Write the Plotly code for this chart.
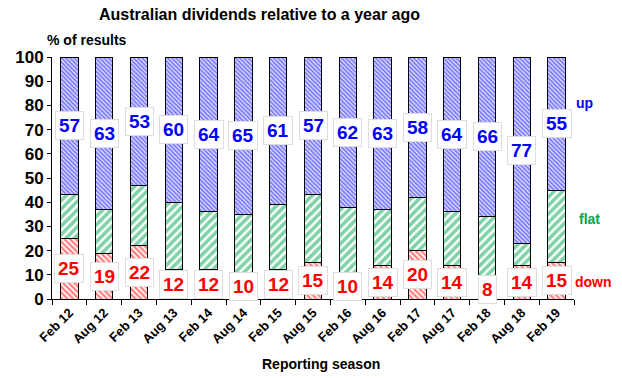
import plotly.graph_objects as go

seasons = ["Feb 12", "Aug 12", "Feb 13", "Aug 13", "Feb 14", "Aug 14", "Feb 15", "Aug 15",
           "Feb 16", "Aug 16", "Feb 17", "Aug 17", "Feb 18", "Aug 18", "Feb 19"]
down = [25, 19, 22, 12, 12, 10, 12, 15, 10, 14, 20, 14, 8, 14, 15]
up = [57, 63, 53, 60, 64, 65, 61, 57, 62, 63, 58, 64, 66, 77, 55]
flat = [100 - u - d for u, d in zip(up, down)]

FONT = "Arial, Liberation Sans, sans-serif"
BLUE = "#0000FF"
RED = "#FF0000"
GREEN = "#00A650"

fig = go.Figure()
fig.add_bar(x=seasons, y=down, name="down",
            marker=dict(color="white", line=dict(color="black", width=1),
                        pattern=dict(shape="\\", fgcolor=RED, bgcolor="white", size=4, solidity=0.55)))
fig.add_bar(x=seasons, y=flat, name="flat",
            marker=dict(color="white", line=dict(color="black", width=1),
                        pattern=dict(shape="/", fgcolor=GREEN, bgcolor="white", size=6, solidity=0.6)))
fig.add_bar(x=seasons, y=up, name="up",
            marker=dict(color="white", line=dict(color="black", width=1),
                        pattern=dict(shape="\\", fgcolor=BLUE, bgcolor="white", size=3, solidity=0.7)))

annotations = []
for i, s in enumerate(seasons):
    annotations.append(dict(x=s, y=down[i] / 2, text=str(down[i]), showarrow=False,
                            font=dict(family=FONT, size=19, color=RED, weight="bold"),
                            bgcolor="white", bordercolor="#DDDDDD", borderwidth=1, borderpad=3))
    annotations.append(dict(x=s, y=down[i] + flat[i] + up[i] / 2, text=str(up[i]), showarrow=False,
                            font=dict(family=FONT, size=19, color=BLUE, weight="bold"),
                            bgcolor="white", bordercolor="#DDDDDD", borderwidth=1, borderpad=3))

# series labels at the right
annotations += [
    dict(x=1.0, xref="paper", xanchor="left", xshift=0, y=81, text="up", showarrow=False,
         font=dict(family=FONT, size=14, color=BLUE, weight="bold")),
    dict(x=1.0, xref="paper", xanchor="left", xshift=3, y=33, text="flat", showarrow=False,
         font=dict(family=FONT, size=14, color=GREEN, weight="bold")),
    dict(x=1.0, xref="paper", xanchor="left", xshift=-1, y=7, text="down", showarrow=False,
         font=dict(family=FONT, size=14, color=RED, weight="bold")),
]
extra = [
    dict(x=45, y=40, text="% of results", showarrow=False, xanchor="left", yanchor="middle",
         font=dict(family=FONT, size=14, color="black", weight="bold")),
    dict(x=259, y=15, text="Australian dividends relative to a year ago",
         showarrow=False, xanchor="center", yanchor="middle",
         font=dict(family=FONT, size=16, color="black", weight="bold")),
    dict(x=321, y=364, text="Reporting season",
         showarrow=False, xanchor="center", yanchor="middle",
         font=dict(family=FONT, size=14, color="black", weight="bold")),
]
W, H = 622, 378
ml, mt = 52, 57
mr = W - 574
mb = H - 299
pw, ph = W - ml - mr, H - mt - mb
for a in extra:
    a["xref"] = "paper"
    a["yref"] = "paper"
    a["x"] = (a["x"] - ml) / pw
    a["y"] = (H - mb - a["y"]) / ph
    annotations.append(a)

fig.update_layout(
    barmode="stack",
    bargap=0.5,
    width=W, height=H,
    margin=dict(l=ml, r=mr, t=mt, b=mb, autoexpand=False),
    paper_bgcolor="white", plot_bgcolor="white",
    showlegend=False,
    font=dict(family=FONT, color="black"),
    annotations=annotations,
    xaxis=dict(tickangle=-45, tickfont=dict(family=FONT, size=13, color="black", weight="bold"),
               showline=True, linecolor="black", linewidth=1, automargin=False,
               ticks="outside", tickson="boundaries", ticklen=5, tickcolor="black"),
    yaxis=dict(range=[0, 100], dtick=10, showgrid=False, automargin=False,
               tickfont=dict(family=FONT, size=17, color="black", weight="bold"),
               showline=True, linecolor="black", linewidth=1,
               ticks="outside", ticklen=4, tickcolor="black"),
)

fig.write_html("out.html", config={"displayModeBar": False},
               post_script="document.body.style.margin='0px';")
